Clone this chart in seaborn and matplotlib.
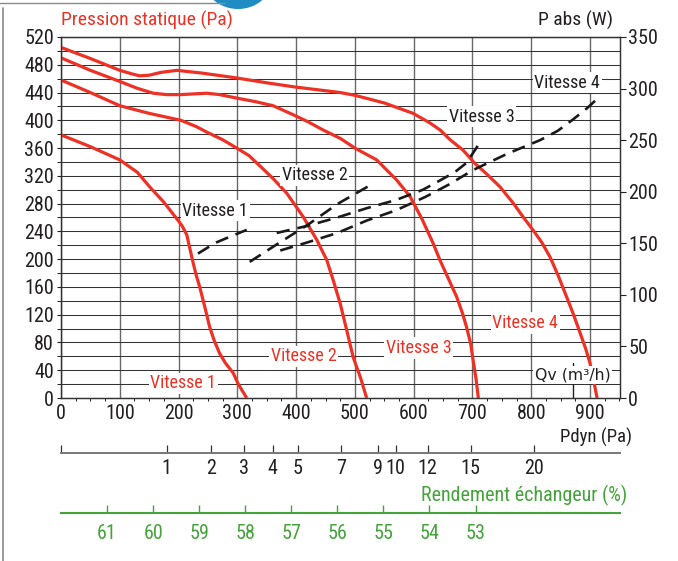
import numpy as np
import pandas as pd
import matplotlib
matplotlib.use("Agg")
import matplotlib.pyplot as plt
import matplotlib.font_manager as fm
from matplotlib.patches import Circle
from matplotlib.lines import Line2D
import seaborn as sns

# ---------------- data ----------------
# static pressure curves (Pa) vs Qv (m3/h)
qv_v1 = [0, 50, 100, 130, 151, 175, 199, 206, 214, 219, 225, 230, 236, 245, 253, 261, 270, 280, 293, 301, 308, 316]
ps_v1 = [379, 362, 343, 325, 304, 282, 256, 248, 235, 216, 194, 177, 160, 130, 102, 82, 64, 50, 36, 21, 11, 0]

qv_v2 = [0, 50, 100, 150, 204, 230, 248, 275, 299, 320, 340, 362, 384, 412, 435, 452, 463, 475, 486, 497, 510, 520]
ps_v2 = [458, 440, 421, 410, 400, 391, 383, 372, 360, 349, 333, 315, 295, 261, 228, 199, 170, 136, 98, 59, 28, 0]

qv_v3 = [0, 50, 100, 130, 157, 180, 204, 225, 248, 270, 299, 330, 361, 395, 420, 446, 475, 500, 537, 571, 594, 614, 633, 645, 659, 673, 683, 690, 697, 701, 706, 710]
ps_v3 = [490, 472, 456, 446, 439, 437, 437, 438, 439, 437, 432, 427, 421, 408, 398, 386, 374, 360, 343, 314, 290, 258, 223, 198, 172, 146, 122, 102, 78, 55, 28, 0]

qv_v4 = [0, 50, 100, 120, 134, 150, 170, 197, 240, 299, 350, 398, 475, 500, 550, 599, 628, 645, 662, 684, 704, 725, 747, 770, 786, 803, 818, 832, 846, 860, 872, 883, 893, 900, 906, 912]
ps_v4 = [505, 489, 472, 467, 464, 465, 469, 472, 468, 461, 454, 448, 440, 436, 425, 410, 396, 386, 372, 357, 338, 322, 304, 280, 261, 242, 224, 203, 176, 146, 120, 94, 70, 50, 26, 0]

# absorbed power curves (W) vs Qv
qv_p1 = [233, 250, 265, 290, 316]
pw_p1 = [140, 146, 151, 157, 163]

qv_p2 = [321, 370, 420, 470, 522]
pw_p2 = [132, 150, 168, 188, 205]

qv_p3 = [367, 420, 470, 520, 570, 616, 645, 670, 690, 713]
pw_p3 = [160, 167, 175, 184, 192, 202, 211, 219, 228, 248]

qv_p4 = [373, 420, 470, 520, 570, 620, 660, 701, 760, 815, 845, 871, 895, 914]
pw_p4 = [143, 151, 160, 172, 182, 195, 207, 221, 237, 250, 259, 270, 281, 291]

speed_names = ["Vitesse 1", "Vitesse 2", "Vitesse 3", "Vitesse 4"]

pdyn_ticks = [0, 1, 2, 3, 4, 5, 7, 9, 10, 12, 15, 20]
pdyn_labels = ["", "1", "2", "3", "4", "5", "7", "9", "10", "12", "15", "20"]
eff_ticks = [61, 60, 59, 58, 57, 56, 55, 54, 53]

PDYN_Q1 = 180.0          # Qv at which Pdyn = 1 Pa
EFF_A, EFF_B = 62.003, 0.012766

# ---------------- style ----------------
sns.set_theme(style="white")
avail = {f.name for f in fm.fontManager.ttflist}
narrow = None
for n in ["Liberation Sans Narrow", "Roboto Condensed", "Open Sans Condensed"]:
    if n in avail:
        narrow = n
        break
stretch = "normal"
if narrow is None:
    narrow = "DejaVu Sans"
    stretch = "condensed"
plt.rcParams["font.family"] = [narrow, "DejaVu Sans"]
plt.rcParams["font.stretch"] = stretch

RED = "#ee3124"
GREEN = "#44a33a"
INK = "#231f20"
FS = 14.5

fig = plt.figure(figsize=(6.78, 5.61), dpi=100)
W, H = 678, 561
L, R, T, B = 61, 620, 37, 398
ax = fig.add_axes([L / W, 1 - B / H, (R - L) / W, (B - T) / H])
ax.set_xlim(0, 951)
ax.set_ylim(0, 520)

# grid
for xv in range(0, 1000, 100):
    ax.axvline(xv, color="#6a6a6a", lw=1.0, zorder=1)
for yv in range(20, 521, 20):
    ax.axhline(yv, color="#333333", lw=0.75, zorder=1)

# pressure curves
df_ps = pd.concat([
    pd.DataFrame({"qv": q, "ps": p, "speed": s})
    for q, p, s in zip([qv_v1, qv_v2, qv_v3, qv_v4],
                       [ps_v1, ps_v2, ps_v3, ps_v4], speed_names)
])
for s in speed_names:
    sns.lineplot(data=df_ps[df_ps.speed == s], x="qv", y="ps", sort=False,
                 color=RED, lw=2.3, ax=ax, zorder=3, legend=False,
                 solid_joinstyle="round", solid_capstyle="butt")

# twin axis for power
ax2 = ax.twinx()
ax2.set_ylim(0, 350)
df_pw = pd.concat([
    pd.DataFrame({"qv": q, "pw": p, "speed": s})
    for q, p, s in zip([qv_p1, qv_p2, qv_p3, qv_p4],
                       [pw_p1, pw_p2, pw_p3, pw_p4], speed_names)
])
for s in speed_names:
    sns.lineplot(data=df_pw[df_pw.speed == s], x="qv", y="pw", sort=False,
                 color="#1a1a1a", lw=1.9, ax=ax2, legend=False)
for ln in ax2.get_lines():
    ln.set_dashes((5, 3))
ax2.set_xlim(0, 951)

# labels on chart
bbox = dict(facecolor="white", edgecolor="none", pad=1.2)
black_lab = [(262, 270), (432, 321), (716, 405), (861, 454)]
red_lab = [(208, 21), (413, 60), (609, 72), (790, 108)]
for (x, y), s in zip(black_lab, speed_names):
    ax.text(x, y, s, ha="center", va="center", fontsize=13, color=INK,
            bbox=bbox, zorder=6)
for (x, y), s in zip(red_lab, speed_names):
    ax.text(x, y, s, ha="center", va="center", fontsize=13, color=RED,
            bbox=bbox, zorder=6)
ax.plot([871, 871], [0, 50], color="#222222", lw=1.0, zorder=2)
ax.text(870, 33, "Qv (m³/h)", ha="center", va="center", fontsize=11.3,
        color=INK, family="DejaVu Sans", stretch="normal", bbox=bbox, zorder=6)

# ticks main
ax.set_xticks(range(0, 1000, 100))
ax.set_xticks(np.arange(0, 951, 25), minor=True)
ax.set_yticks(range(0, 521, 40))
ax.set_yticks(range(0, 521, 20), minor=True)
ax.tick_params(axis="both", which="major", labelsize=FS, colors=INK, length=3,
               width=0.8, direction="out")
ax.tick_params(axis="x", which="major", length=0, pad=4)
ax.tick_params(axis="x", which="minor", bottom=True, length=2.5, width=0.7,
               color=INK, direction="out")
ax.tick_params(axis="y", which="minor", left=True, length=3, width=0.7,
               color=INK, direction="out")
ax.tick_params(axis="y", which="major", pad=2)
ax.set_xlabel("")
ax.set_ylabel("")
ax2.set_ylabel("")
ax2.set_yticks(range(0, 351, 50))
ax2.tick_params(axis="y", labelsize=FS, colors=INK, length=4, width=0.8,
                direction="out", pad=2, right=True)
for a in (ax, ax2):
    for sp in a.spines.values():
        sp.set_color("#333333")
        sp.set_linewidth(0.9)

# Pdyn secondary axis
def q2pdyn(q):
    return (np.asarray(q, dtype=float) / PDYN_Q1) ** 2

def pdyn2q(p):
    return PDYN_Q1 * np.sqrt(np.clip(np.asarray(p, dtype=float), 0, None))

off1 = -(453 - B) / (B - T)
sec = ax.secondary_xaxis(off1, functions=(q2pdyn, pdyn2q))
sec.set_xticks(pdyn_ticks, labels=pdyn_labels)
sec.tick_params(direction="in", length=6, width=0.9, color="#333333",
                labelsize=FS, labelcolor=INK, pad=4)
sec.spines["bottom"].set_color("#777777")
sec.spines["bottom"].set_linewidth(1.4)

# efficiency secondary axis
def q2eff(q):
    return EFF_A - EFF_B * np.asarray(q, dtype=float)

def eff2q(e):
    return (EFF_A - np.asarray(e, dtype=float)) / EFF_B

off2 = -(513 - B) / (B - T)
sec2 = ax.secondary_xaxis(off2, functions=(q2eff, eff2q))
sec2.set_xticks(eff_ticks)
sec2.tick_params(direction="in", length=6, width=1.0, color=GREEN,
                 labelsize=FS, labelcolor=GREEN, pad=8)
sec2.spines["bottom"].set_color(GREEN)
sec2.spines["bottom"].set_linewidth(1.5)

# titles
fig.text(L / W, 1 - 20 / H, "Pression statique (Pa)", color=RED, fontsize=14,
         ha="left", va="center")
fig.text(613 / W, 1 - 20 / H, "P abs (W)", color=INK, fontsize=14,
         ha="right", va="center")
fig.text(632 / W, 1 - 437 / H, "Pdyn (Pa)", color=INK, fontsize=13.5,
         ha="right", va="center")
fig.text(627 / W, 1 - 495 / H, "Rendement échangeur (%)", color=GREEN,
         fontsize=14.5, ha="right", va="center")

# frame decoration
fig.add_artist(Line2D([3 / W, 3 / W], [0, 1 - 8 / H], color="#8a8a8a", lw=1.2))
fig.add_artist(Line2D([0, 225 / W], [1 - 2.5 / H, 1 - 2.5 / H], color="#8a8a8a", lw=1.0))
circ = Circle((238 / W, 1 + 18 / H), 27 / H, transform=fig.transFigure,
              facecolor="#1f8dc4", edgecolor="none", clip_on=False)
fig.add_artist(circ)

fig.savefig("out.png", dpi=100)
